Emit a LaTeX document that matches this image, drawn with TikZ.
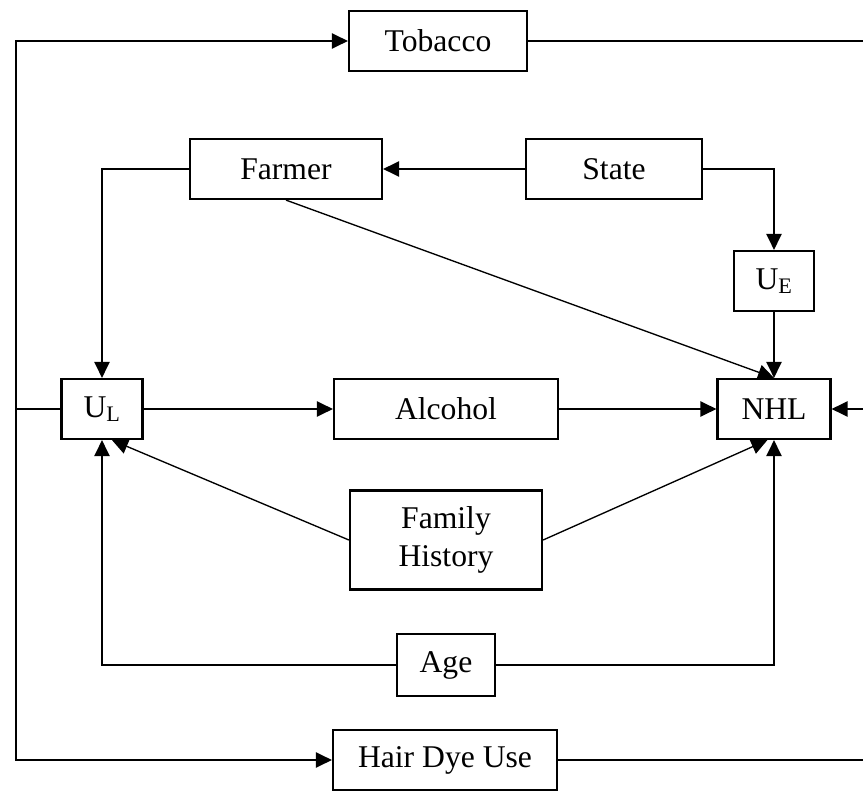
\documentclass[tikz,border=0pt]{standalone}
\usepackage{fontspec}
\setmainfont{Liberation Serif}
\usetikzlibrary{arrows.meta}
\tikzset{
  caja/.style={draw=black,fill=white,line width=1.9pt,inner sep=0pt,minimum height=1.8cm,align=center,font=\fontsize{27}{33}\selectfont},
  linea/.style={draw=black,line width=1.15pt},
  flecha/.style={linea,-{Triangle[length=0.48cm,width=0.46cm]}},
}
\begin{document}
\begin{tikzpicture}[x=0.03cm,y=-0.03cm]
\clip (0,0) rectangle (863,791);
\coordinate (lft) at (16,409);
\coordinate (rgt) at (866,409);
\node[caja,minimum width=5.34cm] (tob) at (438,41) {Tobacco};
\node[caja,minimum width=5.76cm] (fm) at (286,169) {Farmer};
\node[caja,minimum width=5.28cm] (st) at (614,169) {State};
\node[caja,minimum width=2.4cm] (ue) at (774,281) {U\textsubscript{E}};
\node[caja,minimum width=2.43cm] (ul) at (102,409) {U\textsubscript{L}};
\node[caja,minimum width=6.72cm] (alc) at (446,409) {Alcohol};
\node[caja,minimum width=3.39cm] (nhl) at (774,409) {NHL};
\node[caja,minimum width=5.76cm,minimum height=2.97cm] (fh) at (446,540) {Family\\History};
\node[caja,minimum width=2.94cm,minimum height=1.86cm] (age) at (446,665) {Age};
\node[caja,minimum width=6.72cm] (hd) at (445,760) {Hair Dye Use};
\draw[flecha] (st.west) -- (fm.east);
\draw[flecha] (fm.west) -| (ul.north);
\draw[flecha] (st.east) -| (ue.north);
\draw[flecha] (ue.south) -- (nhl.north);
\draw[flecha] (fm.south) -- (nhl.north);
\draw[flecha] (ul.east) -- (alc.west);
\draw[flecha] (alc.east) -- (nhl.west);
\draw[flecha] (fh.west) -- ([xshift=0.3cm]ul.south);
\draw[flecha] (fh.east) -- ([xshift=-0.2cm]nhl.south);
\draw[flecha] (age.west) -| (ul.south);
\draw[flecha] (age.east) -| (nhl.south);
\draw[linea] (ul.west) -- (lft);
\draw[flecha] (lft) |- (tob.west);
\draw[flecha] (lft) |- (hd.west);
\draw[linea] (tob.east) -| (rgt);
\draw[linea] (hd.east) -| (rgt);
\draw[flecha] (rgt) -- (nhl.east);
\end{tikzpicture}
\end{document}
